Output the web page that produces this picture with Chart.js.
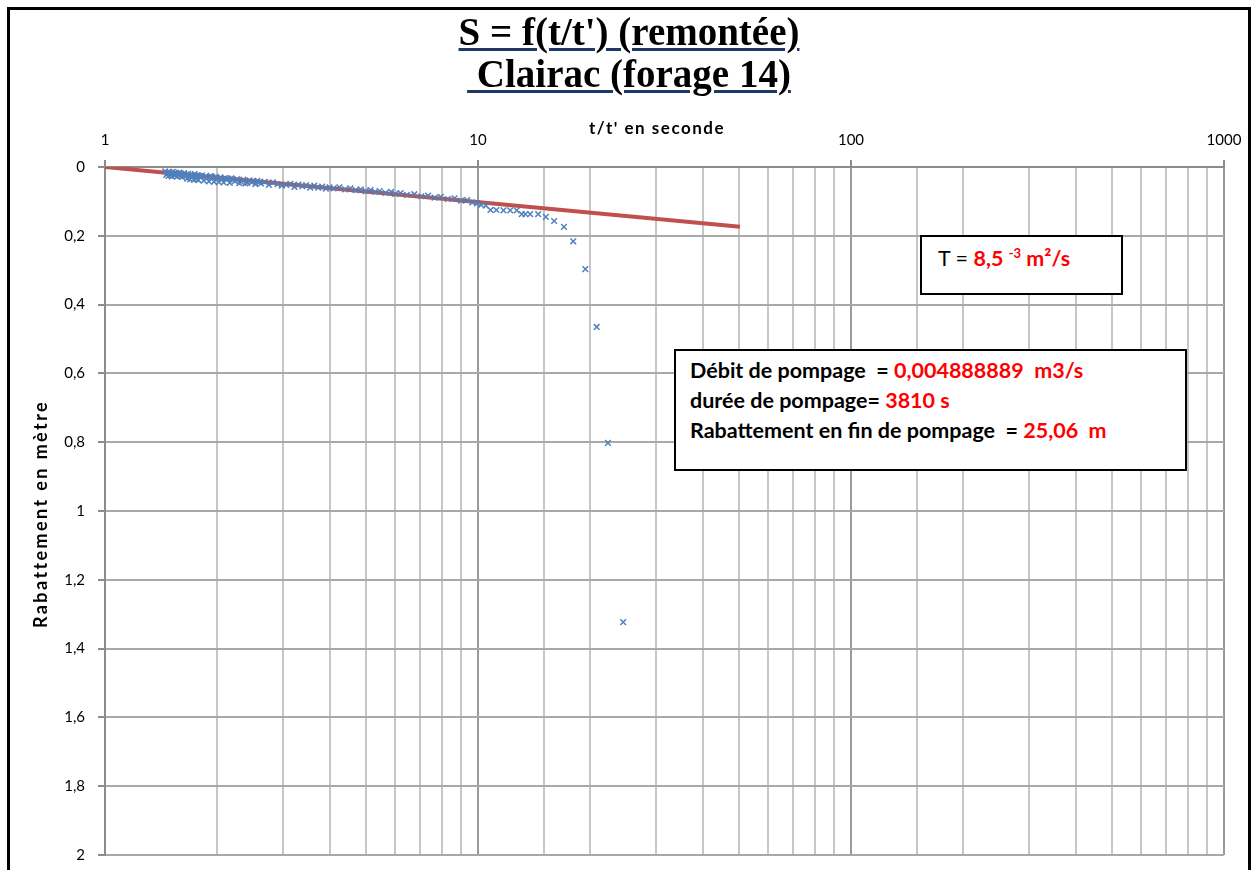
<!DOCTYPE html>
<html>
<head>
<meta charset="utf-8">
<script src="https://cdn.jsdelivr.net/npm/chart.js@4.4.1/dist/chart.umd.min.js"></script>
<style>
  html, body { margin: 0; padding: 0; background: #fff; }
  #wrap { position: relative; width: 1258px; height: 870px; overflow: hidden; background: #fff; }
  #c { position: absolute; left: 0; top: 0; }
  #frame { position: absolute; left: 7px; top: 7px; width: 1244px; height: 940px; border: 3px solid #000; box-sizing: border-box; pointer-events: none; }
  #title { position: absolute; left: 0; top: 11px; width: 1258px; text-align: center; font-family: "Liberation Serif", "Times New Roman", serif; font-weight: bold; font-size: 39px; line-height: 42px; color: #000; }
  #title span { text-decoration: underline; text-decoration-color: #1F3864; text-decoration-thickness: 3px; text-underline-offset: 3px; }
  .box { position: absolute; background: #fff; border: 2px solid #000; box-sizing: border-box; font-family: Lato, "Open Sans", sans-serif; color: #000; white-space: pre; }
  .red { color: #ff0000; font-weight: bold; }
  #box1 { left: 920px; top: 235px; width: 203px; height: 60px; padding: 8px 0 0 16px; font-size: 21.5px; }
  #box1 sup { font-size: 13px; vertical-align: 8px; }
  #box2 { left: 674px; top: 349px; width: 513px; height: 122px; padding: 4px 0 0 14px; font-size: 21.5px; font-weight: bold; line-height: 30px; }
</style>
</head>
<body>
<div id="wrap">
  <canvas id="c" width="1258" height="870"></canvas>
  <div id="frame"></div>
  <div id="title"><span>S = f(t/t') (remontée)</span><br><span>&nbsp;Clairac (forage 14)</span></div>
  <div class="box" id="box1">T = <span class="red">8,5 <sup>-3</sup> m²/s</span></div>
  <div class="box" id="box2"><div>Débit de pompage  = <span class="red">0,004888889  m3/s</span></div><div>durée de pompage= <span class="red">3810 s</span></div><div>Rabattement en fin de pompage  = <span class="red">25,06  m</span></div></div>
</div>
<script>
// ---- Data ----
const tRatio = [
  1.45,1.46,1.47,1.48,1.49,1.50,1.51,1.52,1.53,1.54,1.55,1.56,1.57,1.58,1.59,1.60,1.61,1.62,1.63,1.64,1.65,1.66,1.67,1.68,1.69,1.70,1.71,1.72,1.73,1.74,1.75,1.76,1.77,1.78,1.79,1.80,
  1.82,1.84,1.86,1.88,1.90,1.92,1.94,1.96,1.98,2.00,2.02,2.04,2.06,2.08,2.10,2.12,2.14,2.16,2.18,2.20,
  2.23,2.26,2.29,2.32,2.35,2.38,2.41,2.44,2.47,2.50,2.53,2.56,2.59,2.62,
  2.68,2.75,2.82,2.90,2.98,3.06,3.14,3.22,3.30,3.38,3.46,3.55,3.64,3.73,3.82,3.91,4.00,
  4.10,4.25,4.40,4.55,4.70,4.85,5.00,5.15,5.30,5.45,5.65,5.85,6.00,6.20,
  6.45,6.75,7.05,7.35,7.65,7.95,8.30,8.65,9.00,9.35,9.65,9.95,
  10.2,10.5,10.8,11.2,11.7,12.2,12.7,13.1,13.4,13.8,14.5,15.2,16.0,17.0,18.0,19.4,20.8,22.3,24.5
];
const drawdown = [
  0.013,0.023,0.017,0.026,0.015,0.022,0.027,0.014,0.020,0.025,0.017,0.028,0.021,0.016,0.026,0.019,0.029,0.022,0.018,0.027,0.024,0.034,0.020,0.026,0.036,0.022,0.028,0.025,0.037,0.021,0.027,0.035,0.024,0.038,0.026,0.029,
  0.024,0.040,0.027,0.031,0.042,0.026,0.030,0.043,0.029,0.034,0.044,0.030,0.035,0.045,0.032,0.037,0.034,0.046,0.033,0.038,
  0.041,0.035,0.047,0.044,0.037,0.048,0.046,0.039,0.044,0.041,0.050,0.040,0.045,0.048,
  0.043,0.052,0.045,0.050,0.054,0.052,0.049,0.058,0.051,0.056,0.053,0.060,0.054,0.060,0.057,0.063,0.059,
  0.062,0.059,0.065,0.062,0.067,0.065,0.070,0.067,0.072,0.070,0.075,0.072,0.078,0.076,
  0.081,0.079,0.085,0.083,0.089,0.087,0.093,0.091,0.098,0.096,0.103,0.106,
  0.110,0.112,0.125,0.125,0.126,0.126,0.126,0.137,0.137,0.137,0.137,0.145,0.157,0.174,0.216,0.297,0.465,0.802,1.323
];
const trendX = [1, 50.4];
const trendY = [0, 0.174];
const xMajorValues = [1, 10, 100, 1000];
const xTickLabels = ['1', '10', '100', '1000'];
const yTickLabels = ['0','0,2','0,4','0,6','0,8','1','1,2','1,4','1,6','1,8','2'];
const xAxisTitle = "t/t' en seconde";
const yAxisTitle = 'Rabattement en mètre';

const scatterPts = tRatio.map((x, i) => ({x: x, y: drawdown[i]}));
const trendPts = trendX.map((x, i) => ({x: x, y: trendY[i]}));

function majorIndex(v) {
  for (let i = 0; i < xMajorValues.length; i++) {
    if (Math.abs(v - xMajorValues[i]) < 1e-6 * xMajorValues[i]) return i;
  }
  return -1;
}

// Axis titles drawn with the spaced-out look of the original
const axisTitlePlugin = {
  id: 'axisTitles',
  afterDraw(chart) {
    const ctx = chart.ctx;
    ctx.save();
    ctx.fillStyle = '#000';
    ctx.textAlign = 'center';
    ctx.textBaseline = 'middle';
    ctx.font = 'bold 17px Lato';
    if ('letterSpacing' in ctx) ctx.letterSpacing = '1.5px';
    ctx.fillText(xAxisTitle, 657, 129);
    ctx.translate(41, 514);
    ctx.rotate(-Math.PI / 2);
    ctx.font = 'bold 18px Lato';
    if ('letterSpacing' in ctx) ctx.letterSpacing = '2.4px';
    ctx.fillText(yAxisTitle, 0, 0);
    ctx.restore();
  }
};

new Chart(document.getElementById('c'), {
  type: 'scatter',
  data: {
    datasets: [
      {
        label: 'Rabattement',
        data: scatterPts,
        showLine: false,
        pointStyle: 'crossRot',
        pointRadius: 4,
        borderColor: '#4f81bd',
        backgroundColor: '#4f81bd',
        borderWidth: 1.5
      },
      {
        label: 'Droite',
        data: trendPts,
        showLine: true,
        pointRadius: 0,
        borderColor: '#c0504d',
        borderWidth: 4,
        fill: false
      }
    ]
  },
  plugins: [axisTitlePlugin],
  options: {
    responsive: false,
    animation: false,
    devicePixelRatio: 1,
    layout: { padding: { left: 0, top: 0, right: 34, bottom: 15 } },
    plugins: { legend: { display: false }, tooltip: { enabled: false }, title: { display: false } },
    scales: {
      x: {
        type: 'logarithmic',
        position: 'top',
        min: 1,
        max: 1000,
        afterFit: (s) => { s.height = 167; },
        border: { color: '#8c8c8c', width: 2 },
        grid: {
          color: (ctx) => (ctx.tick && majorIndex(ctx.tick.value) >= 0) ? '#9a9a9a' : '#c6c6c6',
          lineWidth: 2,
          tickLength: 7,
          tickColor: (ctx) => (ctx.tick && majorIndex(ctx.tick.value) >= 0) ? '#8c8c8c' : 'rgba(0,0,0,0)'
        },
        ticks: {
          autoSkip: false,
          maxRotation: 0,
          padding: 11,
          color: '#000',
          font: { family: 'Lato', size: 15 },
          callback: (v) => { const i = majorIndex(v); return i >= 0 ? xTickLabels[i] : ''; }
        },
        title: { display: false }
      },
      y: {
        type: 'linear',
        reverse: true,
        min: 0,
        max: 2,
        afterFit: (s) => { s.width = 105; s.paddingTop = 0; s.paddingBottom = 0; },
        border: { color: '#8c8c8c', width: 2 },
        grid: { color: '#a8a8a8', lineWidth: 2, tickLength: 7, tickColor: '#8c8c8c' },
        ticks: {
          stepSize: 0.2,
          padding: 13,
          color: '#000',
          font: { family: 'Lato', size: 15 },
          callback: (v) => yTickLabels[Math.round(v * 5)]
        },
        title: { display: false }
      }
    }
  }
});
</script>
</body>
</html>
